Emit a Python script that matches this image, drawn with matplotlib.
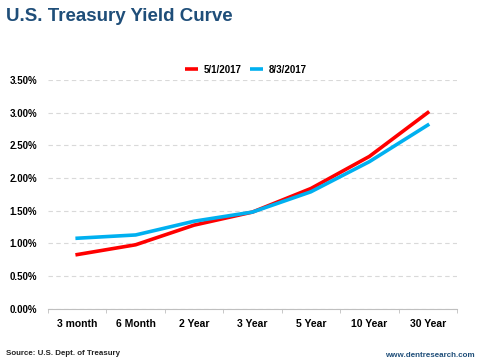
import matplotlib
matplotlib.use("Agg")
import matplotlib.pyplot as plt
from matplotlib.ticker import FuncFormatter

plt.rcParams['font.family'] = ['Liberation Sans', 'DejaVu Sans']

maturities = ["3 month", "6 Month", "2 Year", "3 Year", "5 Year", "10 Year", "30 Year"]
may_2017 = [0.83, 0.98, 1.28, 1.48, 1.84, 2.33, 3.00]
aug_2017 = [1.08, 1.13, 1.34, 1.48, 1.79, 2.25, 2.81]

fig = plt.figure(figsize=(4.8, 3.6), dpi=100)
ax = fig.add_axes([0.10, 0.142, 0.852, 0.636])

x = range(len(maturities))
ax.plot(x, may_2017, color="#FF0000", lw=2.6, label="5/1/2017")
ax.plot(x, aug_2017, color="#00B0F0", lw=2.6, label="8/3/2017")

ax.set_xlim(-0.5, len(maturities) - 0.5)
ax.set_ylim(0, 3.5)
ax.set_yticks([i * 0.5 for i in range(8)])
ax.yaxis.set_major_formatter(FuncFormatter(lambda v, p: f"{v:.2f}%"))
ax.set_xticks(list(x))
ax.set_xticklabels(maturities)
ax.set_xticks([i - 0.5 for i in range(len(maturities) + 1)], minor=True)

ax.grid(axis="y", color="#D9D9D9", linestyle=(0, (4, 3)), lw=0.8)
ax.set_axisbelow(True)
for s in ["top", "right", "left"]:
    ax.spines[s].set_visible(False)
ax.spines["bottom"].set_color("#BFBFBF")
ax.tick_params(axis="y", length=0, labelsize=7, pad=8)
ax.tick_params(axis="x", which="major", length=0, labelsize=7.5, pad=7)
ax.tick_params(axis="x", which="minor", length=3, color="#BFBFBF")
for lbl in ax.get_xticklabels() + ax.get_yticklabels():
    lbl.set_fontweight("bold")

leg = ax.legend(loc="center", bbox_to_anchor=(0.483, 1.045), ncol=2, frameon=False,
                handlelength=1.4, handletextpad=0.5, columnspacing=0.9,
                prop={"weight": "bold", "size": 7})
for h in leg.get_lines():
    h.set_solid_capstyle("butt")

fig.text(0.012, 0.955, "U.S. Treasury Yield Curve", fontsize=13.5, fontweight="bold",
         color="#1F4E79", va="center", ha="left")
fig.text(0.012, 0.018, "Source: U.S. Dept. of Treasury", fontsize=5.7, fontweight="bold",
         color="#222222", va="center", ha="left")
fig.text(0.988, 0.012, "www.dentresearch.com", fontsize=5.8, fontweight="bold",
         color="#1F4E79", va="center", ha="right")

fig.savefig("out.png", dpi=100)
